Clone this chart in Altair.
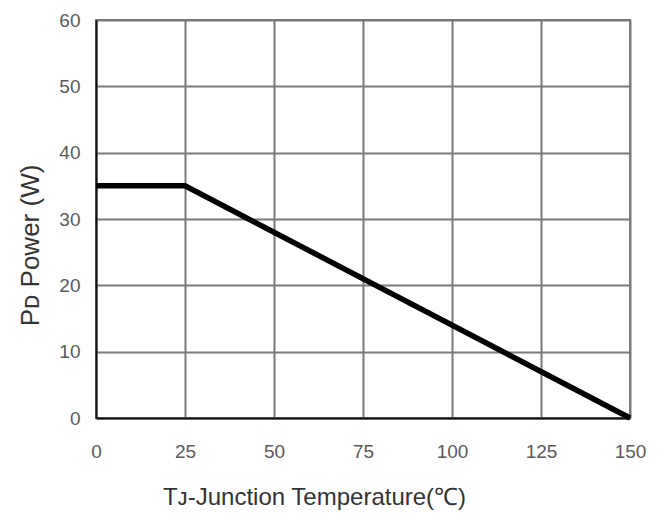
import altair as alt
import pandas as pd

temps = [0, 25, 150]
power = [35, 35, 0]
x_ticks = [0, 25, 50, 75, 100, 125, 150]
y_ticks = [0, 10, 20, 30, 40, 50, 60]

df = pd.DataFrame({"T": temps, "P": power})

font = "Liberation Sans"

chart = alt.Chart(df).mark_line(color="black", strokeWidth=5.5, strokeCap="butt", strokeJoin="miter").encode(
    x=alt.X("T:Q", scale=alt.Scale(domain=[0, 150], nice=False, zero=False),
            axis=alt.Axis(values=x_ticks, title="Tᴊ-Junction Temperature(℃)",
                          grid=True, gridColor="#7a7a7a", gridWidth=2, gridOpacity=1,
                          domainColor="#111111", domainWidth=2, ticks=False, labelFlush=False,
                          labelFont=font, labelFontSize=19, labelColor="#5a5a5a", labelPadding=24,
                          titleFont=font, titleFontSize=24, titleFontWeight="normal", titleColor="#333333",
                          titleX=218, titleY=79, titleBaseline="middle", titleAlign="center")),
    y=alt.Y("P:Q", scale=alt.Scale(domain=[0, 60], nice=False),
            axis=alt.Axis(values=y_ticks, title="Pᴅ  Power (W)",
                          grid=True, gridColor="#7a7a7a", gridWidth=2, gridOpacity=1,
                          domainColor="#111111", domainWidth=2, ticks=False,
                          labelFont=font, labelFontSize=19, labelColor="#5a5a5a", labelPadding=16,
                          titleFont=font, titleFontSize=26, titleFontWeight="normal", titleColor="#333333",
                          titleX=-66, titleY=225, titleAngle=270, titleBaseline="middle", titleAlign="center")),
).properties(
    width=534, height=398,
    autosize=alt.AutoSizeParams(type="none"),
    padding={"left": 96, "top": 20, "right": 38, "bottom": 104},
    background="white",
).configure_view(stroke="#7a7a7a", strokeWidth=2)

chart.save("out.html", embed_options={"renderer": "svg", "actions": False})
